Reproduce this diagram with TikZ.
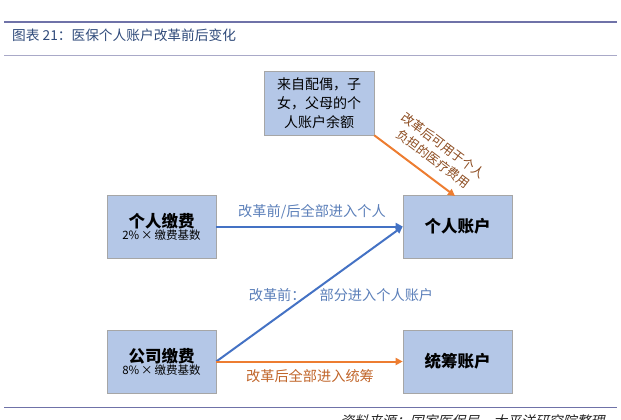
\documentclass[tikz,border=0pt]{standalone}
\usepackage{fontspec}
\setmainfont{Noto Sans CJK SC}
\newfontfamily\cjkslant{Noto Sans CJK SC}[FakeSlant=0.25]
\usetikzlibrary{arrows.meta}
\definecolor{boxfill}{HTML}{B4C7E7}
\definecolor{boxline}{HTML}{A6A6A6}
\definecolor{bluearr}{HTML}{4472C4}
\definecolor{bluetxt}{HTML}{5B7FB9}
\definecolor{orgarr}{HTML}{ED7D31}
\definecolor{orgtxt}{HTML}{C0652A}
\definecolor{browntxt}{HTML}{8B4A1E}
\definecolor{titlecol}{HTML}{2F4A7A}
\definecolor{rulecol}{HTML}{6F72A8}
\definecolor{rulelight}{HTML}{A9A9C8}
\tikzset{
  boxnode/.style={draw=boxline, line width=0.6pt, fill=boxfill, minimum width=109pt, minimum height=63pt, inner sep=2pt, align=center, text=black},
  bluearrow/.style={draw=bluearr, line width=2pt, -{Triangle[length=7pt,width=7pt]}},
  orgarrow/.style={draw=orgarr, line width=2pt, -{Triangle[length=7pt,width=7pt]}},
}
\begin{document}
\begin{tikzpicture}[x=1pt,y=-1pt]
\useasboundingbox (0,0) rectangle (621,420);
% rules
\draw[rulecol, line width=1.8pt] (4,22) -- (617,22);
\draw[rulelight, line width=0.8pt] (4,55) -- (617,55);
\draw[rulecol, line width=0.8pt] (4,407) -- (617,407);
\node[anchor=west, text=titlecol, font=\fontsize{13.7}{15}\selectfont, inner sep=0pt] (title) at (12,35) {图表 21：医保个人账户改革前后变化};
% boxes
\node[boxnode, minimum width=110pt, minimum height=64pt, font=\fontsize{14}{19}\selectfont] (fam) at (319,103) {来自配偶，子\\女，父母的个\\人账户余额};
\node[boxnode] (pers) at (161.5,226.5) {{\fontsize{16.5}{19}\selectfont\bfseries 个人缴费}\\[0pt]{\fontsize{11.5}{13}\selectfont 2\%\,×\,缴费基数}};
\node[boxnode, font=\fontsize{16.5}{19}\selectfont\bfseries] (acct) at (457.5,226.5) {个人账户};
\node[boxnode] (comp) at (161.5,361.5) {{\fontsize{16.5}{19}\selectfont\bfseries 公司缴费}\\[0pt]{\fontsize{11.5}{13}\selectfont 8\%\,×\,缴费基数}};
\node[boxnode, font=\fontsize{16.5}{19}\selectfont\bfseries] (pool) at (457.5,361.5) {统筹账户};
% arrows
\draw[bluearrow] (pers.east) -- (acct.west);
\draw[bluearrow] (comp.east) -- (acct.west);
\draw[orgarrow] (comp.east) -- (pool.west);
\coordinate (famend) at (455,196);
\draw[orgarrow] (fam.south east) -- (famend);
% labels
\node[text=bluetxt, font=\fontsize{14.2}{16}\selectfont] (l1) at (312,212) {改革前/后全部进入个人};
\node[text=bluetxt, font=\fontsize{14.2}{16}\selectfont] (l2) at (341,295) {改革前：\hspace{14pt}部分进入个人账户};
\node[text=orgtxt, font=\fontsize{14.2}{16}\selectfont] (l3) at (310,376) {改革后全部进入统筹};
\node[text=browntxt, font=\fontsize{12.5}{16.5}\selectfont, rotate=-37, align=center] (l4) at (438,152) {改革后可用于个人\\负担的医疗费用};
% footer
\node[anchor=west, font=\cjkslant\fontsize{13.9}{15}\selectfont, text=black!85, inner sep=0pt] (src) at (340,421) {资料来源：国家医保局，太平洋研究院整理};
\end{tikzpicture}
\end{document}
